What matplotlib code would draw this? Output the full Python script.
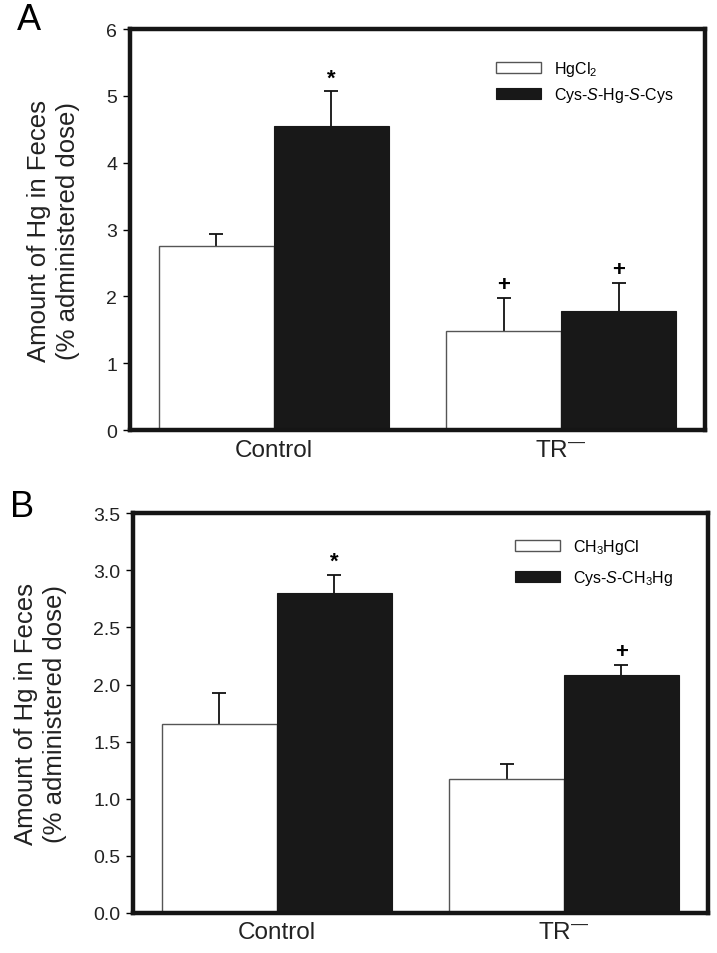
import matplotlib
matplotlib.use("Agg")
import matplotlib.pyplot as plt
import numpy as np

plt.rcParams['font.family'] = ['Liberation Sans', 'DejaVu Sans']
plt.rcParams['mathtext.fontset'] = 'custom'
plt.rcParams['mathtext.rm'] = 'Liberation Sans'
plt.rcParams['mathtext.it'] = 'Liberation Sans:italic'
plt.rcParams['mathtext.bf'] = 'Liberation Sans:bold'

groups = ['Control', 'TR$^{\u2014}$']

# panel A
a_white = [2.75, 1.48]
a_white_err = [0.18, 0.50]
a_black = [4.55, 1.78]
a_black_err = [0.52, 0.42]
a_white_mark = ['', '+']
a_black_mark = ['*', '+']
a_labels = [r'HgCl$_2$', r'Cys-$\mathit{S}$-Hg-$\mathit{S}$-Cys']
a_ticks = [0, 1, 2, 3, 4, 5, 6]
a_ticklabels = ['0', '1', '2', '3', '4', '5', '6']

# panel B
b_white = [1.65, 1.17]
b_white_err = [0.28, 0.13]
b_black = [2.80, 2.08]
b_black_err = [0.16, 0.09]
b_white_mark = ['', '']
b_black_mark = ['*', '+']
b_labels = [r'CH$_3$HgCl', r'Cys-$\mathit{S}$-CH$_3$Hg']
b_ticks = [0, 0.5, 1.0, 1.5, 2.0, 2.5, 3.0, 3.5]
b_ticklabels = ['0.0', '0.5', '1.0', '1.5', '2.0', '2.5', '3.0', '3.5']

fig = plt.figure(figsize=(7.17, 9.54), dpi=100)
axA = fig.add_axes([0.181, 0.548, 0.802, 0.4205])
axB = fig.add_axes([0.1855, 0.042, 0.8015, 0.419])

black = '#181818'
x = np.arange(len(groups))
w = 0.4


def up_err(ax, xs, vals, errs, z):
    _, caps, _ = ax.errorbar(xs, vals, yerr=[np.zeros(len(errs)), errs], fmt='none',
                             ecolor='#111111', elinewidth=1.3, capsize=5, capthick=1.3, zorder=z)
    caps[0].set_visible(False)  # hide the lower cap


def panel(ax, white, werr, blk, berr, wmark, bmark, labels, ticks, ticklabels, ymax,
          letter, letter_xy, label_x, leg_anchor, leg_space):
    ax.bar(x - w / 2, white, w, color='white', edgecolor='#555555', linewidth=1.0, label=labels[0], zorder=2)
    ax.bar(x + w / 2, blk, w, color=black, edgecolor=black, linewidth=0.8, label=labels[1], zorder=2)
    up_err(ax, x - w / 2, white, werr, 1)
    up_err(ax, x + w / 2, blk, berr, 3)
    for xs, vals, errs, marks in [(x - w / 2, white, werr, wmark), (x + w / 2, blk, berr, bmark)]:
        for xi, v, e, m in zip(xs, vals, errs, marks):
            if m:
                ax.annotate(m, (xi, v + e), xytext=(0, 2), textcoords='offset points',
                            ha='center', va='bottom', fontsize=16, fontweight='bold')
    ax.set_xlim(-0.5, 1.5)
    ax.set_ylim(0, ymax)
    ax.set_yticks(ticks)
    ax.set_yticklabels(ticklabels, fontsize=14, color='#222222')
    ax.set_xticks(x)
    ax.set_xticklabels(groups, fontsize=17.5, color='#222222')
    ax.tick_params(axis='x', length=0, pad=6)
    ax.tick_params(axis='y', direction='out', length=5, width=1, pad=4)
    for s in ax.spines.values():
        s.set_linewidth(3.2)
        s.set_color('#151515')
    ax.set_ylabel('Amount of Hg in Feces\n(% administered dose)', fontsize=18.5, color='#222222',
                  linespacing=1.25)
    ax.yaxis.set_label_coords(label_x, 0.5)
    ax.text(letter_xy[0], letter_xy[1], letter, transform=ax.transAxes, fontsize=26,
            ha='center', va='center')
    ax.legend(frameon=False, fontsize=11.5, loc='upper left', bbox_to_anchor=leg_anchor,
              handlelength=2.8, handleheight=0.7, labelspacing=leg_space, handletextpad=0.8,
              borderaxespad=0, borderpad=0)


panel(axA, a_white, a_white_err, a_black, a_black_err, a_white_mark, a_black_mark,
      a_labels, a_ticks, a_ticklabels, 6, 'A', (-0.176, 1.025), -0.087, (0.637, 0.925), 0.45)
panel(axB, b_white, b_white_err, b_black, b_black_err, b_white_mark, b_black_mark,
      b_labels, b_ticks, b_ticklabels, 3.5, 'B', (-0.193, 1.018), -0.115, (0.665, 0.94), 0.75)

fig.savefig('out.png', dpi=100)
